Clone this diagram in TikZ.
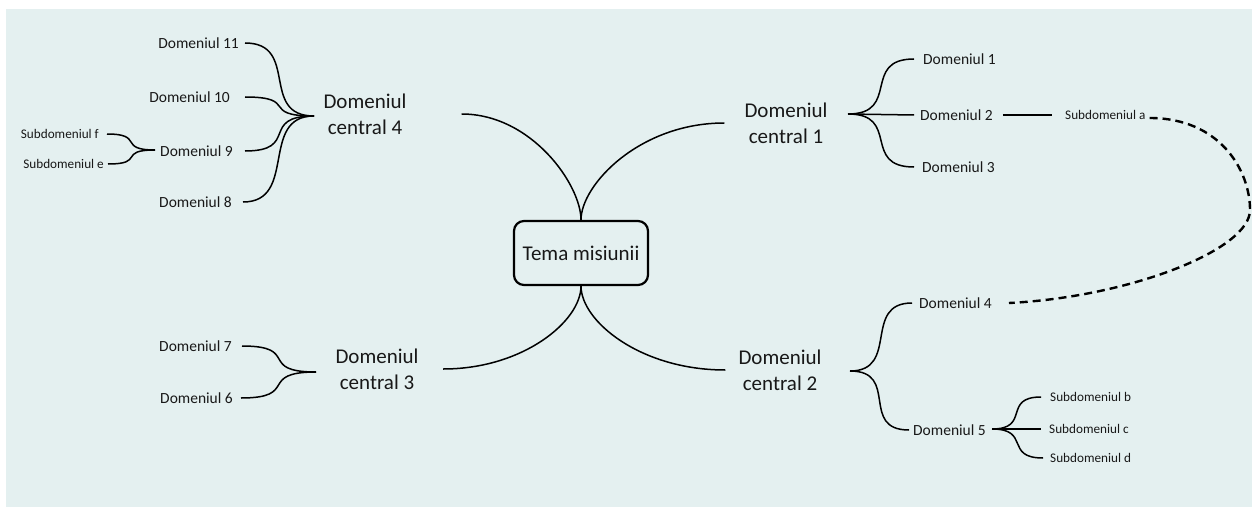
\documentclass[tikz,border=0pt]{standalone}
\usepackage{fontspec}
\setmainfont{Carlito}
\definecolor{bgcol}{RGB}{228,240,240}
\definecolor{ink}{RGB}{24,24,24}
\begin{document}
\begin{tikzpicture}[x=1pt,y=-1pt,
  themebox/.style={draw=black,line width=2.2pt,rounded corners=10pt,
    minimum width=134pt,minimum height=64pt,inner sep=0pt,
    font=\fontsize{21}{25.6}\selectfont,text=ink},
  centralbox/.style={align=center,inner sep=0pt,
    font=\fontsize{21}{25.6}\selectfont,text=ink},
  dombox/.style={inner sep=0pt,font=\fontsize{15.5}{18}\selectfont,text=ink},
  subbox/.style={inner sep=0pt,font=\fontsize{13.2}{16}\selectfont,text=ink},
  link/.style={line width=1.5pt,black},
  crosslink/.style={line width=2.4pt,black,dash pattern=on 8pt off 5pt}]

\useasboundingbox (0,0) rectangle (1252,508);
\fill[bgcol] (6,9) rectangle (1252,507);

% main topic and the four central domains
\node[themebox] (tema) at (581,253) {Tema misiunii};
\node[centralbox] (c1) at (786,123) {Domeniul\\central 1};
\node[centralbox] (c2) at (780,370) {Domeniul\\central 2};
\node[centralbox] (c3) at (377,369) {Domeniul\\central 3};
\node[centralbox] (c4) at (365,114) {Domeniul\\central 4};

% hubs where the branches fan out
\coordinate (h1) at (848,114);
\coordinate (h2) at (850,371);
\coordinate (h3) at (316,372);
\coordinate (h4) at (314,116);
\coordinate (h5) at (992,429);
\coordinate (h9) at (155,150);
\coordinate (loop) at (1250,210);

% domains
\node[dombox,anchor=west] (d1) at (923,59) {Domeniul 1};
\node[dombox,anchor=west] (d2) at (920,115) {Domeniul 2};
\node[dombox,anchor=west] (d3) at (922,167) {Domeniul 3};
\node[dombox,anchor=west] (d4) at (919,303) {Domeniul 4};
\node[dombox,anchor=west] (d5) at (913,430) {Domeniul 5};
\node[dombox,anchor=east] (d6) at (233,398) {Domeniul 6};
\node[dombox,anchor=east] (d7) at (232,346) {Domeniul 7};
\node[dombox,anchor=east] (d8) at (232,202) {Domeniul 8};
\node[dombox,anchor=east] (d9) at (233,151) {Domeniul 9};
\node[dombox,anchor=east] (d10) at (230,97) {Domeniul 10};
\node[dombox,anchor=east] (d11) at (239,43) {Domeniul 11};

% subdomains
\node[subbox,anchor=west] (sa) at (1065,115) {Subdomeniul a};
\node[subbox,anchor=west] (sb) at (1050,397) {Subdomeniul b};
\node[subbox,anchor=west] (sc) at (1049,429) {Subdomeniul c};
\node[subbox,anchor=west] (sd) at (1050,458) {Subdomeniul d};
\node[subbox,anchor=east] (se) at (104,164) {Subdomeniul e};
\node[subbox,anchor=east] (sf) at (99,134) {Subdomeniul f};

% topic to central domains
\draw[link] (tema.north) .. controls +(0,-35) and +(-85,0) .. ([xshift=-20pt]c1.west);
\draw[link] (tema.north) .. controls +(0,-35) and +(70,0) .. ([xshift=55pt]c4.east);
\draw[link] (tema.south) .. controls +(0,35) and +(-85,0) .. ([xshift=-13pt]c2.west);
\draw[link] (tema.south) .. controls +(0,35) and +(80,0) .. ([xshift=24.5pt]c3.east);

% central domain 1
\draw[link] (h1) .. controls +(53,0) and +(-53,0) .. ([xshift=-9pt]d1.west);
\draw[link] (h1) -- ([xshift=-6pt]d2.west);
\draw[link] (h1) .. controls +(53,0) and +(-53,0) .. ([xshift=-8pt]d3.west);
\draw[link] ([xshift=10pt]d2.east) -- ([xshift=-13pt]sa.west);

% dashed link between subdomain a and domain 4
\draw[crosslink] ([xshift=4pt,yshift=-3pt]sa.east) .. controls +(70,0) and +(0,-40) .. (loop)
  .. controls +(0,40) and +(120,-6) .. ([xshift=17pt]d4.east);

% central domain 2
\draw[link] (h2) .. controls +(50,0) and +(-50,0) .. ([xshift=-7pt]d4.west);
\draw[link] (h2) .. controls +(50,0) and +(-50,0) .. ([xshift=-4pt]d5.west);
\draw[link] (h5) .. controls +(39,0) and +(-39,0) .. ([xshift=-9pt]sb.west);
\draw[link] (h5) -- ([xshift=-8pt]sc.west);
\draw[link] (h5) .. controls +(39,0) and +(-39,0) .. ([xshift=-7pt]sd.west);

% central domain 3
\draw[link] (h3) .. controls +(-59,0) and +(59,0) .. ([xshift=10pt]d7.east);
\draw[link] (h3) .. controls +(-59,0) and +(59,0) .. ([xshift=8pt]d6.east);

% central domain 4
\draw[link] (h4) .. controls +(-55,0) and +(55,0) .. ([xshift=6pt]d11.east);
\draw[link] (h4) .. controls +(-55,0) and +(55,0) .. ([xshift=15pt]d10.east);
\draw[link] (h4) .. controls +(-55,0) and +(55,0) .. ([xshift=12pt]d9.east);
\draw[link] (h4) .. controls +(-55,0) and +(55,0) .. ([xshift=11pt]d8.east);
\draw[link] (h9) .. controls +(-38,0) and +(38,0) .. ([xshift=8pt]sf.east);
\draw[link] (h9) .. controls +(-38,0) and +(38,0) .. ([xshift=4pt]se.east);
\end{tikzpicture}
\end{document}
